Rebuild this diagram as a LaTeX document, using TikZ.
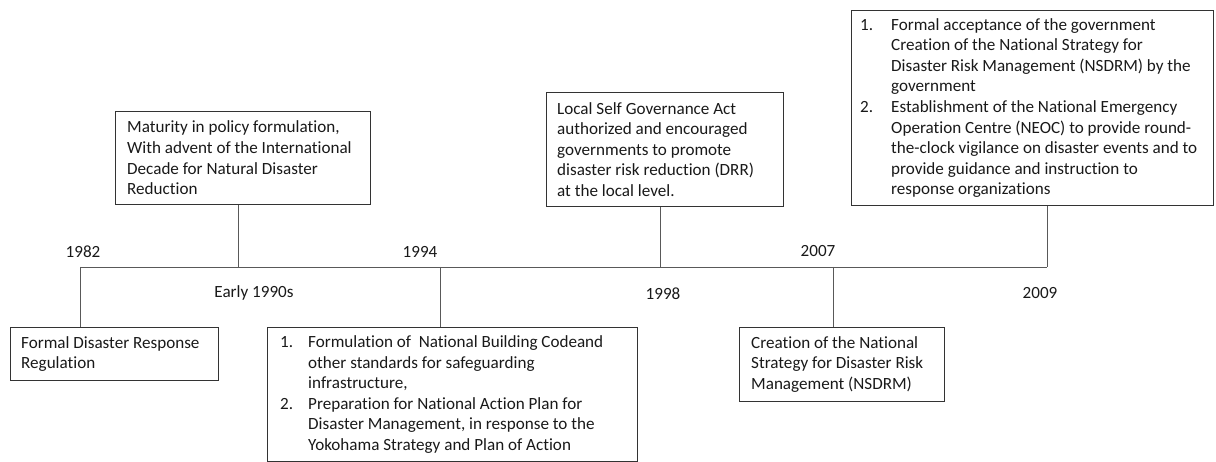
\documentclass[tikz,border=0pt]{standalone}
\usepackage{fontspec}
\setmainfont{Carlito}[Ligatures=NoCommon]
\begin{document}
\begin{tikzpicture}[x=1pt,y=-1pt,
  every node/.style={text=black!90},
  sm/.style={font=\fontsize{17.1}{20.6}\selectfont},
  box/.style={draw=black!80, line width=0.9pt, inner sep=0pt, anchor=north west},
  txt/.style={sm, align=left, inner sep=0pt, anchor=west},
  conn/.style={draw=black!65, line width=0.8pt},
  yr/.style={sm, inner sep=0pt}]
\useasboundingbox (0,0) rectangle (1216,462);
\newcommand{\itm}[2]{\makebox[#1][l]{#2}}
% boxes
\node[box, minimum width=208pt, minimum height=53pt] (b1982) at (10,327) {};
\node[box, minimum width=255pt, minimum height=93pt] (b1990) at (115,111) {};
\node[box, minimum width=370pt, minimum height=134pt] (b1994) at (267,327) {};
\node[box, minimum width=237pt, minimum height=114pt] (b1998) at (546,92) {};
\node[box, minimum width=205pt, minimum height=74pt] (b2007) at (739,327) {};
\node[box, minimum width=362pt, minimum height=195pt] (b2009) at (851,10) {};
% texts
\node[txt] (t1982) at ([xshift=11pt]b1982.west)
  {Formal Disaster Response\\Regulation};
\node[txt] (t1990) at ([xshift=12pt]b1990.west)
  {Maturity in policy formulation,\\With advent of the International\\Decade for Natural Disaster\\Reduction};
\node[txt] (t1994) at ([xshift=13pt]b1994.west)
  {\itm{28pt}{1.}Formulation of \ National Building Codeand\\
   \itm{28pt}{}other standards for safeguarding\\
   \itm{28pt}{}infrastructure,\\
   \itm{28pt}{2.}Preparation for National Action Plan for\\
   \itm{28pt}{}Disaster Management, in response to the\\
   \itm{28pt}{}Yokohama Strategy and Plan of Action};
\node[txt] (t1998) at ([xshift=11pt]b1998.west)
  {Local Self Governance Act\\authorized and encouraged\\governments to promote\\disaster risk reduction (DRR)\\at the local level.};
\node[txt] (t2007) at ([xshift=12pt]b2007.west)
  {Creation of the National\\Strategy for Disaster Risk\\Management (NSDRM)};
\node[txt] (t2009) at ([xshift=9pt]b2009.west)
  {\itm{31pt}{1.}Formal acceptance of the government\\
   \itm{31pt}{}Creation of the National Strategy for\\
   \itm{31pt}{}Disaster Risk Management (NSDRM) by the\\
   \itm{31pt}{}government\\
   \itm{31pt}{2.}Establishment of the National Emergency\\
   \itm{31pt}{}Operation Centre (NEOC) to provide round-\\
   \itm{31pt}{}the-clock vigilance on disaster events and to\\
   \itm{31pt}{}provide guidance and instruction to\\
   \itm{31pt}{}response organizations};
% timeline
\coordinate (tA) at (80,267);
\coordinate (tB) at (238,267);
\coordinate (tC) at (440,267);
\coordinate (tD) at (660,267);
\coordinate (tE) at (833,267);
\coordinate (tF) at (1047,267);
\draw[conn] (tA) -- (tF);
\draw[conn] (tA) -- (tA |- b1982.north);
\draw[conn] (tB) -- (tB |- b1990.south);
\draw[conn] (tC) -- (tC |- b1994.north);
\draw[conn] (tD) -- (tD |- b1998.south);
\draw[conn] (tE) -- (tE |- b2007.north);
\draw[conn] (tF) -- (tF |- b2009.south);
% year labels
\node[yr] (y1982) at (83,252) {1982};
\node[yr] (y1990) at (254,293) {Early 1990s};
\node[yr] (y1994) at (420,252) {1994};
\node[yr] (y1998) at (663,294) {1998};
\node[yr] (y2007) at (818,251) {2007};
\node[yr] (y2009) at (1040,293) {2009};
\end{tikzpicture}
\end{document}
